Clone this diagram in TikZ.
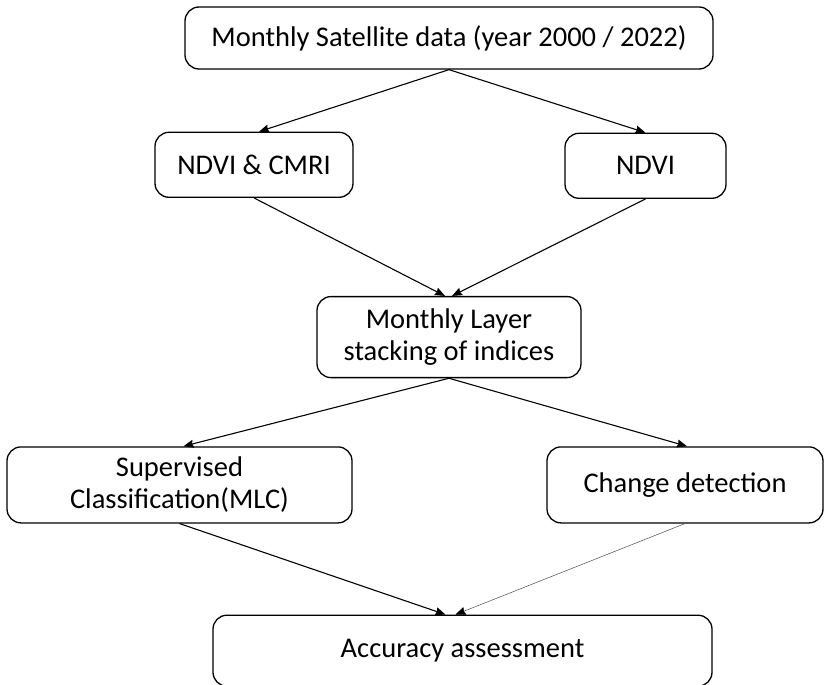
\documentclass[tikz,border=0pt]{standalone}
\usepackage{fontspec}
\setmainfont{Carlito}
\usetikzlibrary{positioning, arrows.meta}

\begin{document}
\begin{tikzpicture}[
  box/.style={draw, line width=1.3pt, rounded corners=14pt, align=center, inner sep=2pt, font=\fontsize{28.5}{32}\selectfont},
  arr/.style={-{Stealth[length=10pt, width=8pt, inset=1pt]}, line width=1.1pt},
  thinarr/.style={-{Stealth[length=10pt, width=8pt, inset=1pt, color=black]}, line width=0.5pt, draw=black!70}]
\useasboundingbox (0pt,0pt) rectangle (825pt,-685pt);
\node[box, minimum width=528pt, minimum height=62pt] (sat) at (449pt,-38pt) {Monthly Satellite data (year 2000 / 2022)};
\node[box, minimum width=198pt, minimum height=65pt, below=62pt of sat, xshift=-195pt] (ndcm) {NDVI \& CMRI};
\node[box, minimum width=161pt, minimum height=65pt, below=63pt of sat, xshift=196.5pt] (ndvi) {NDVI};
\node[box, minimum width=264pt, minimum height=81pt, below=98pt of ndcm, xshift=195pt] (stack) {Monthly Layer\\stacking of indices};
\node[box, minimum width=345pt, minimum height=76pt, below=68pt of stack, xshift=-269.5pt] (sup) {Supervised\\Classification(MLC)};
\node[box, minimum width=276pt, minimum height=76pt, below=68pt of stack, xshift=236pt] (chg) {Change detection};
\node[box, minimum width=499pt, minimum height=71pt, below=91pt of sup, xshift=283pt] (acc) {Accuracy assessment};
\draw[arr] (sat.south) -- ([xshift=5pt]ndcm.north);
\draw[arr] (sat.south) -- (ndvi.north);
\draw[arr] (ndcm.south) -- ([xshift=-4pt]stack.north);
\draw[arr] (ndvi.south) -- ([xshift=3pt]stack.north);
\draw[arr] (stack.south) -- ([xshift=4pt]sup.north);
\draw[arr] (stack.south) -- ([xshift=2pt]chg.north);
\draw[arr] (sup.south) -- ([xshift=-17pt]acc.north);
\draw[thinarr] (chg.south) -- ([xshift=-7pt]acc.north);
\end{tikzpicture}
\end{document}
